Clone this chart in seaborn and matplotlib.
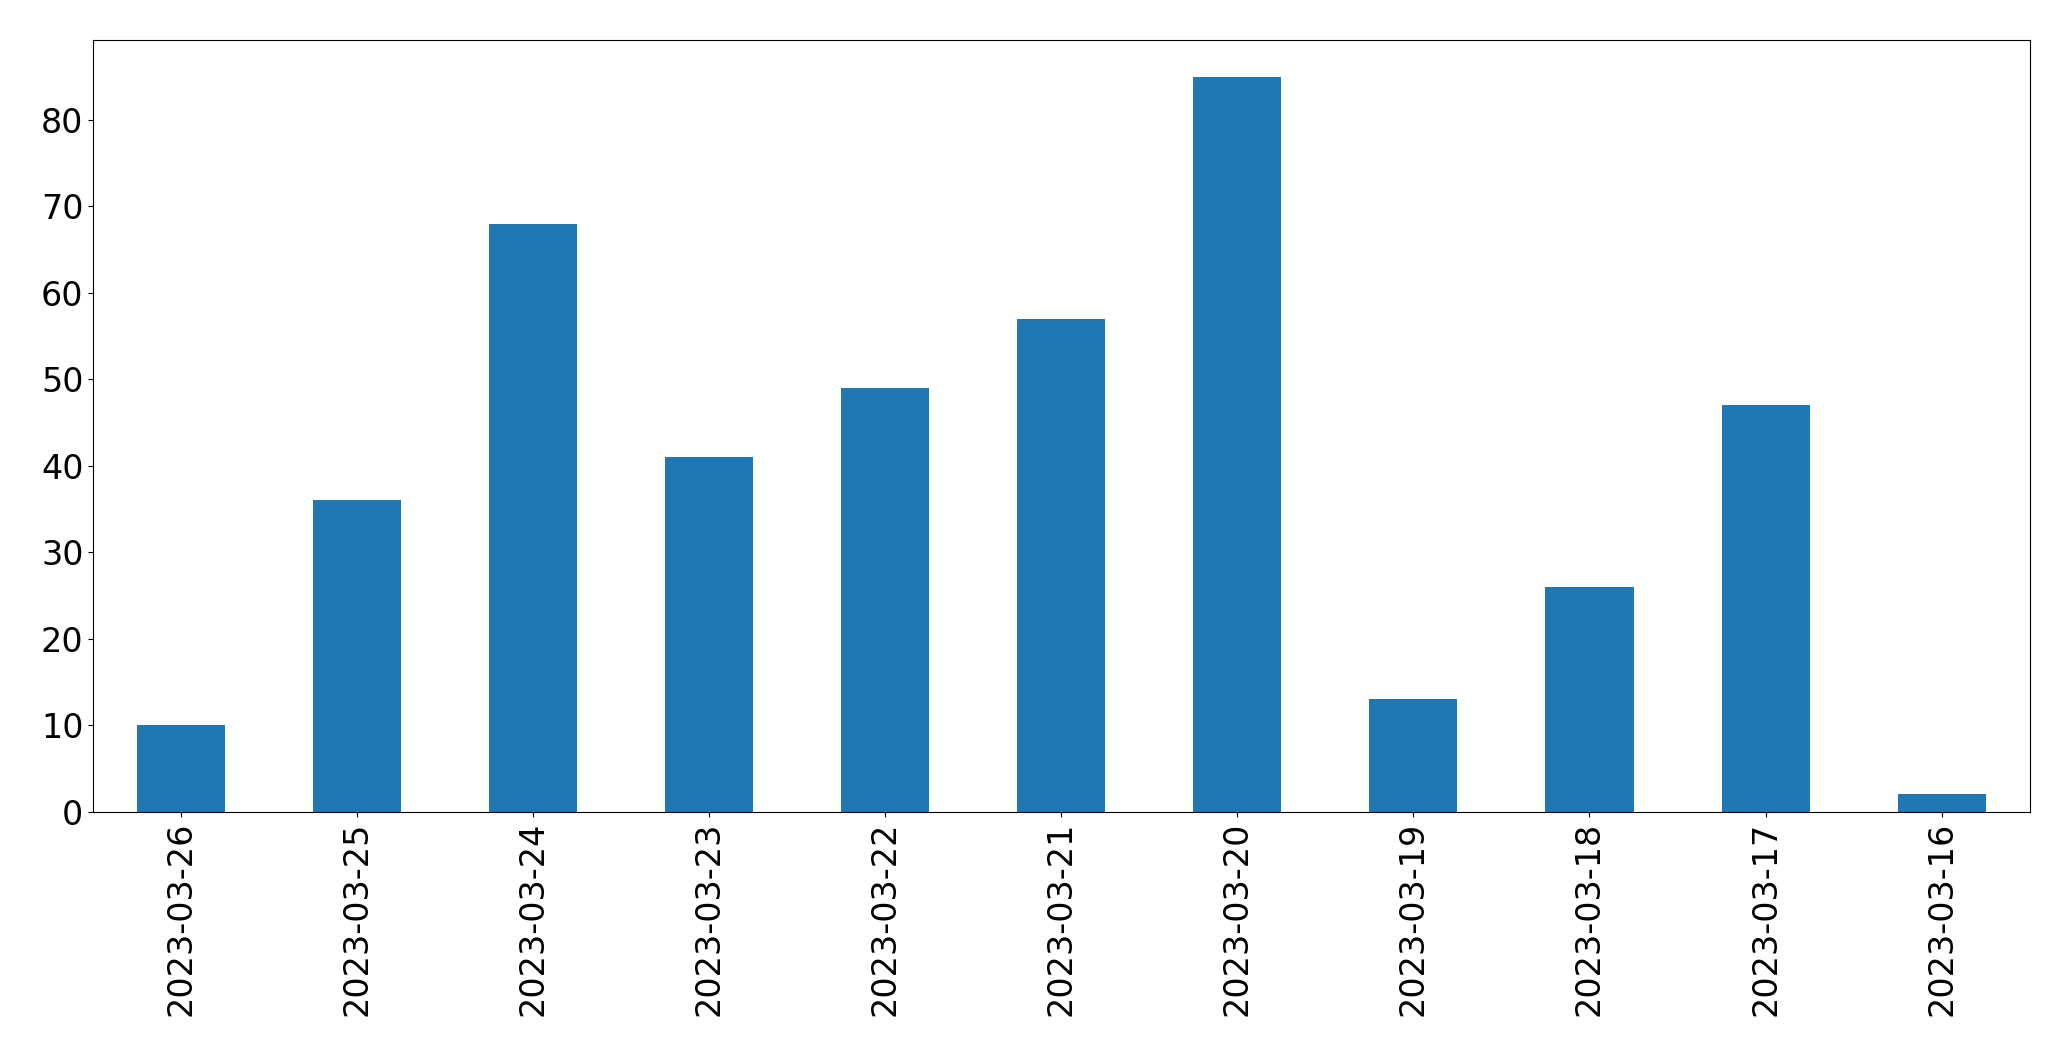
import matplotlib
matplotlib.use("Agg")
import matplotlib.pyplot as plt
import seaborn as sns
import pandas as pd

dates = ["2023-03-26","2023-03-25","2023-03-24","2023-03-23","2023-03-22","2023-03-21",
         "2023-03-20","2023-03-19","2023-03-18","2023-03-17","2023-03-16"]
counts = [10, 36, 68, 41, 49, 57, 85, 13, 26, 47, 2]

df = pd.DataFrame({"date": dates, "count": counts})
fig = plt.figure(figsize=(20.71, 10.61), dpi=100)
ax = fig.add_axes([0.045, 0.235, 0.935, 0.7275])
sns.barplot(data=df, x="date", y="count", color="#1f77b4", saturation=1, width=0.5, ax=ax)
ax.set_xlabel("")
ax.set_ylabel("")
ax.tick_params(axis="both", labelsize=24)
ax.tick_params(axis="x", rotation=90)
ax.set_ylim(0, 89.25)
fig.savefig("out.png", dpi=100)
